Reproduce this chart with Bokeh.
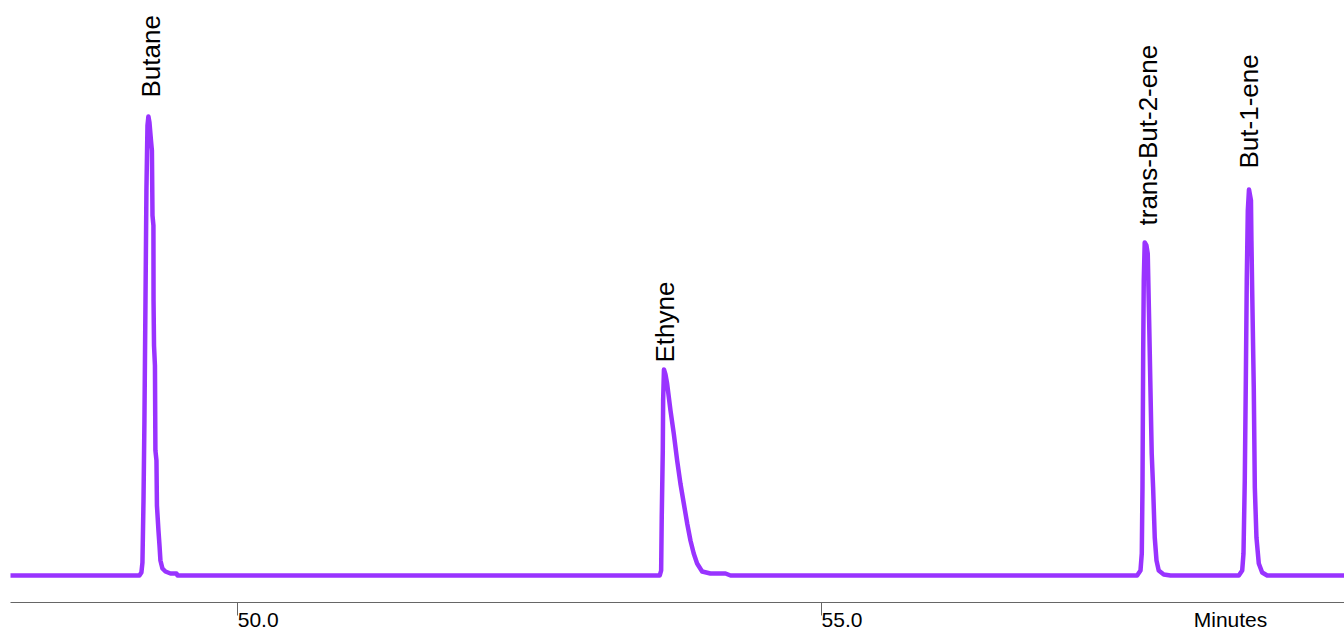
import numpy as np
from bokeh.plotting import figure
from bokeh.models import (Range1d, FixedTicker, NumeralTickFormatter, LinearAxis,
                          ColumnDataSource)
from bokeh.core.properties import value
from bokeh.embed import file_html
from bokeh.resources import INLINE

# Chromatogram segment: retention time (min) and detector signal per peak
butane_t = [49.163, 49.180, 49.189, 49.198, 49.206, 49.215, 49.223, 49.232,
            49.240, 49.249, 49.262, 49.270, 49.275, 49.283, 49.284, 49.288,
            49.296, 49.300, 49.309, 49.313, 49.326, 49.335, 49.343, 49.360,
            49.386, 49.429, 49.480, 49.490]
butane_s = [0.0, 0.6, 2.6, 15.0, 31.0, 55.0, 77.0, 90.0,
            91.8, 90.6, 87.0, 85.0, 72.0, 70.0, 55.0, 46.0,
            42.0, 25.0, 23.0, 14.0, 9.0, 6.0, 3.0, 1.4,
            0.8, 0.4, 0.4, 0.0]

ethyne_t = [53.619, 53.631, 53.636, 53.645, 53.648, 53.655, 53.668, 53.682,
            53.711, 53.739, 53.768, 53.796, 53.825, 53.854, 53.882, 53.910,
            53.939, 53.982, 54.053, 54.182, 54.225]
ethyne_s = [0.0, 1.0, 11.6, 25.0, 35.0, 41.2, 40.2, 38.4,
            33.0, 28.4, 23.0, 18.4, 14.4, 10.4, 7.0, 4.4,
            2.4, 0.8, 0.4, 0.4, 0.0]

tbut2_t = [57.707, 57.736, 57.747, 57.753, 57.759, 57.764, 57.772, 57.787,
           57.798, 57.810, 57.821, 57.832, 57.844, 57.858, 57.873, 57.892,
           57.935, 57.993]
tbut2_s = [0.0, 1.0, 4.4, 17.6, 44.4, 59.0, 66.6, 66.0,
           64.4, 51.0, 37.6, 24.4, 17.6, 7.6, 3.0, 1.0,
           0.2, 0.0]

but1_t = [58.578, 58.607, 58.618, 58.629, 58.638, 58.646, 58.655, 58.665,
          58.682, 58.686, 58.692, 58.706, 58.715, 58.729, 58.749, 58.778,
          58.821]
but1_s = [0.0, 1.0, 4.4, 19.0, 39.0, 59.0, 73.0, 77.2,
          75.0, 67.0, 57.6, 37.6, 17.6, 7.6, 2.4, 0.6,
          0.0]

run_start, run_end = 48.059, 59.483
signal_low, signal_high = -5.4, 115.0

peak_names = ["Butane", "Ethyne", "trans-But-2-ene", "But-1-ene"]
peak_times = [49.258, 53.668, 57.796, 58.669]

x_ticks = [50.0, 55.0]
x_tick_labels = ["50.0", "55.0"]
x_title = "Minutes"

# layout constants (pixels)
W, H = 1344, 633
LEFT_PAD, AXIS_BAND = 10, 28
label_lift_px = [19, 7, 17, 21]
tick_label_shift_px = 21      # tick labels sit just right of their tick
title_center_from_right_px = 114

# assemble the full trace with flat baseline at both ends
trace_t = [run_start] + butane_t + ethyne_t + tbut2_t + but1_t + [run_end]
trace_s = [0.0] + butane_s + ethyne_s + tbut2_s + but1_s + [0.0]
peak_tops = [max(butane_s), max(ethyne_s), max(tbut2_s), max(but1_s)]

px_per_min = (W - LEFT_PAD) / (run_end - run_start)

p = figure(width=W, height=H, output_backend="svg", toolbar_location=None,
           x_range=Range1d(run_start, run_end),
           y_range=Range1d(signal_low, signal_high),
           min_border_left=LEFT_PAD, min_border_right=0, min_border_top=0,
           min_border_bottom=AXIS_BAND, y_axis_location=None,
           outline_line_color=None, background_fill_color="white",
           border_fill_color="white")
p.grid.visible = False

# time axis: line and downward tick marks
ax = p.xaxis[0]
ax.ticker = FixedTicker(ticks=x_ticks)
ax.formatter = NumeralTickFormatter(format="0.0")
ax.major_tick_in = 0
ax.major_tick_out = 13
ax.minor_tick_line_color = None
ax.axis_line_color = "#666666"
ax.major_tick_line_color = "#666666"
ax.major_label_text_color = None

# tick values and axis title, set beside the ticks
label_pos = [t + tick_label_shift_px / px_per_min for t in x_ticks]
title_pos = run_end - title_center_from_right_px / px_per_min
overrides = {pos: txt for pos, txt in zip(label_pos, x_tick_labels)}
overrides[title_pos] = x_title
lab_axis = LinearAxis(ticker=FixedTicker(ticks=label_pos + [title_pos]),
                      major_label_overrides=overrides,
                      axis_line_color=None, major_tick_line_color=None,
                      minor_tick_line_color=None, major_tick_in=0,
                      major_tick_out=0, major_label_standoff=-8,
                      major_label_text_font="Liberation Sans",
                      major_label_text_font_size="21px",
                      major_label_text_color="#000000")
p.add_layout(lab_axis, "below")

p.line(trace_t, trace_s, line_color="#9933ff", line_width=4.5,
       line_join="round", line_cap="round")

labels = ColumnDataSource(dict(t=peak_times, s=peak_tops, name=peak_names,
                               lift=[-v for v in label_lift_px]))
p.text(x="t", y="s", text="name", source=labels, angle=np.pi / 2,
       y_offset="lift", text_align="left", text_baseline="middle",
       text_font=value("Liberation Sans"), text_font_size="26px",
       text_color="#000000")

open("out.html", "w").write(file_html(p, INLINE))
